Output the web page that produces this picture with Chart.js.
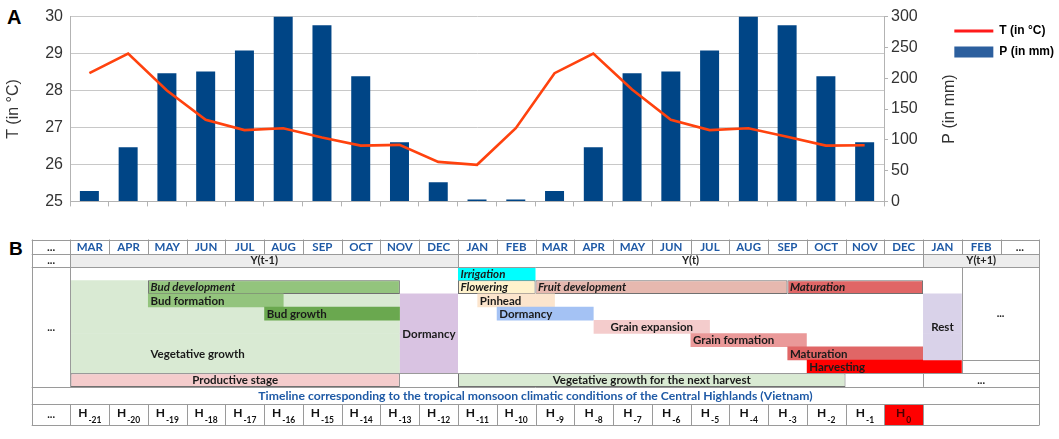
<!DOCTYPE html>
<html>
<head>
<meta charset="utf-8">
<title>Climate and coffee phenology timeline</title>
<script src="https://cdn.jsdelivr.net/npm/chart.js@4.4.1/dist/chart.umd.min.js"></script>
<style>
  html, body { margin: 0; padding: 0; background: #fff; }
  body { position: relative; width: 1059px; height: 439px; overflow: hidden; }
  .tag { position: absolute; font-family: "Liberation Sans", Arial, sans-serif; font-weight: bold; line-height: 1; color: #000; }
  canvas { position: absolute; left: 0; }
</style>
</head>
<body>
<div class="tag" style="left:7px;top:7px;font-size:20px">A</div>
<canvas id="climate" width="1059" height="218" style="top:0"></canvas>
<div class="tag" style="left:9px;top:239px;font-size:19px">B</div>
<canvas id="timeline" width="1059" height="207" style="top:232px"></canvas>
<script>
// ---------- panel A : monthly temperature and rainfall
var climateMonths = ["MAR","APR","MAY","JUN","JUL","AUG","SEP","OCT","NOV","DEC","JAN","FEB",
                     "MAR","APR","MAY","JUN","JUL","AUG","SEP","OCT","NOV"];
var tempC = [28.47, 29.0, 28.0, 27.21, 26.93, 26.98, 26.73, 26.51, 26.53, 26.07, 25.99, 26.98,
             28.47, 29.0, 28.03, 27.21, 26.93, 26.98, 26.75, 26.51, 26.52];
var rainMm = [17, 88, 208, 211, 245, 300, 286, 203, 96, 31, 3, 3,
              17, 88, 208, 211, 245, 300, 286, 203, 96];
var seriesNames = ["T (in °C)", "P (in mm)"];
var rainAxisTitle = "P (in mm)";

// ---------- panel B : phenology timeline
var timelineMonths = ["...","MAR","APR","MAY","JUN","JUL","AUG","SEP","OCT","NOV","DEC",
                      "JAN","FEB","MAR","APR","MAY","JUN","JUL","AUG","SEP","OCT","NOV","DEC",
                      "JAN","FEB","..."];
var yearLabels = ["...", "Y(t-1)", "Y(t)", "Y(t+1)"];
var yearStarts = [0, 1, 11, 23];
var yearEnds = [1, 11, 23, 26];
var harvestSubs = ["-21","-20","-19","-18","-17","-16","-15","-14","-13","-12",
                   "-11","-10","-9","-8","-7","-6","-5","-4","-3","-2","-1","0"];
var timelineNote = "Timeline corresponding to the tropical monsoon climatic conditions of the Central Highlands (Vietnam)";

// phases: start / end in month columns, lanes = first and last row used
var phaseNames = ["Vegetative growth", "Dormancy", "Bud development", "Bud formation", "Bud growth",
                  "Irrigation", "Flowering", "Fruit development", "Maturation", "Pinhead", "Dormancy",
                  "Grain expansion", "Grain formation", "Maturation", "Harvesting", "Rest",
                  "Productive stage", "Vegetative growth for the next harvest"];
var phaseStart = [1, 9.5, 3, 3, 6, 11, 11, 13, 19.5, 11.5, 12, 14.5, 17, 19.5, 20, 23, 1, 11];
var phaseEnd   = [9.5, 11, 9.5, 6.5, 9.5, 13, 13, 19.5, 23, 13.5, 14.5, 17.5, 20, 23, 24, 24, 9.5, 21];
var phaseLanes = [[2,8],[3,8],[2,2],[3,3],[4,4],[1,1],[2,2],[2,2],[2,2],[3,3],[4,4],
                  [5,5],[6,6],[7,7],[8,8],[3,7],[9,9],[9,9]];

// looks
var phaseFill = ["#d9ead3","#d9c3e2","#93c47d","#93c47d","#6aa84f","#00ffff","#fff2cc","#e6b8af",
                 "#e06666","#fce5cd","#a4c2f4","#f4cccc","#ea9999","#e06666","#ff0000","#d9d2e9",
                 "#f4cccc","#d9ead3"];
var outlinedPhases = [2, 6, 7, 8, 16, 17];
var italicPhases = [2, 5, 6, 7, 8];
var centredPhases = [1, 11, 15, 16, 17];
var labelSpot = { 0: { col: 3, lane: 7 } };
var shadedYears = [1, 3];
var legendShape = ["line", "rect"];
var legendSwatch = ["#ff1a1a", "#2c5f9e"];
var legendStroke = [3, 0];

var AXIS_FONT = { family: "Liberation Sans", size: 16 };
var CELL_FONT = "Lato, 'Open Sans', sans-serif";
var BLUE = "#1f5aa6";

// right axis title reads bottom-to-top, as in the original
var sideTitle = {
  id: "sideTitle",
  afterDraw: function (chart) {
    var s = chart.scales.y1, ctx = chart.ctx, a = chart.chartArea;
    ctx.save();
    ctx.translate(s.right + 4.5, (a.top + a.bottom) / 2);
    ctx.rotate(-Math.PI / 2);
    ctx.font = "16px 'Liberation Sans'";
    ctx.fillStyle = "#333";
    ctx.textAlign = "center";
    ctx.textBaseline = "middle";
    ctx.fillText(rainAxisTitle, 0, 0);
    ctx.restore();
  }
};

var climateChart = new Chart(document.getElementById("climate"), {
  type: "bar",
  data: {
    labels: climateMonths,
    datasets: [{
      type: "line",
      label: seriesNames[0],
      data: tempC,
      yAxisID: "y",
      borderColor: "#ff420e",
      borderWidth: 2.6,
      pointRadius: 0,
      tension: 0,
      fill: false
    }, {
      type: "bar",
      label: seriesNames[1],
      data: rainMm,
      yAxisID: "y1",
      backgroundColor: "#004586",
      categoryPercentage: 1,
      barPercentage: 0.49
    }]
  },
  options: {
    responsive: false,
    animation: false,
    layout: { padding: { top: 16, right: -5, left: 0, bottom: 0 } },
    scales: {
      x: {
        grid: { offset: true, drawOnChartArea: false, tickLength: 5, color: "#b3b3b3" },
        border: { color: "#b3b3b3" },
        ticks: { display: false },
        afterFit: function (s) { s.height = 11.6; }
      },
      y: {
        position: "left",
        min: 25, max: 30,
        ticks: { stepSize: 1, padding: 7, color: "#333", font: AXIS_FONT },
        grid: { color: "#c8c8c8", drawTicks: false },
        border: { color: "#b3b3b3" },
        title: { display: true, text: "T (in °C)", color: "#333", font: AXIS_FONT, padding: { top: 4, bottom: 0 } },
        afterFit: function (s) { s.width = 70; }
      },
      y1: {
        position: "right",
        min: 0, max: 300,
        ticks: { stepSize: 50, padding: 3, color: "#333", font: AXIS_FONT },
        grid: { drawOnChartArea: false, tickLength: 4, color: "#b3b3b3" },
        border: { color: "#b3b3b3" },
        afterFit: function (s) { s.width = 61.3; }
      }
    },
    plugins: {
      tooltip: { enabled: false },
      legend: {
        position: "right",
        align: "start",
        labels: {
          usePointStyle: true,
          pointStyleWidth: 39,
          boxHeight: 11,
          padding: 9,
          color: "#111",
          font: { family: "Liberation Sans", size: 12, weight: "bold" },
          generateLabels: function (chart) {
            return chart.data.datasets.map(function (ds, i) {
              return {
                text: ds.label, datasetIndex: i, hidden: false,
                pointStyle: legendShape[i], fillStyle: legendSwatch[i],
                strokeStyle: legendSwatch[i], lineWidth: legendStroke[i]
              };
            });
          }
        }
      }
    }
  },
  plugins: [sideTitle]
});

// ---------- panel B chart
var rowEdge = { top: -1.589, month: -0.48, year: 0.5, gantt: 8.5, prod: 9.526, note: 10.823, bottom: 12.422 };
function laneY(lane) { return lane === 9 ? (rowEdge.gantt + rowEdge.prod) / 2 : lane; }

var ganttBars = [], barFill = [], barEdge = [];
phaseNames.forEach(function (name, i) {
  for (var lane = phaseLanes[i][0]; lane <= phaseLanes[i][1]; lane++) {
    ganttBars.push({ x: [phaseStart[i], phaseEnd[i]], y: laneY(lane) });
    barFill.push(phaseFill[i]);
    barEdge.push(outlinedPhases.indexOf(i) >= 0 ? 1 : 0);
  }
});

function putText(ctx, str, px, py, font, color, align) {
  ctx.font = font;
  ctx.fillStyle = color;
  ctx.textAlign = align || "center";
  ctx.textBaseline = "middle";
  ctx.fillText(str, px, py);
}

var tableGrid = {
  id: "tableGrid",
  beforeDatasetsDraw: function (chart) {
    var ctx = chart.ctx, x = chart.scales.x, y = chart.scales.y;
    function box(c0, c1, u0, u1, color) {
      var px0 = x.getPixelForValue(c0), px1 = x.getPixelForValue(c1);
      var py0 = y.getPixelForValue(u0), py1 = y.getPixelForValue(u1);
      ctx.fillStyle = color;
      ctx.fillRect(px0, py0, px1 - px0, py1 - py0);
    }
    ctx.save();
    shadedYears.forEach(function (i) { box(yearStarts[i], yearEnds[i], rowEdge.month, rowEdge.year, "#ededed"); });
    var h0 = harvestSubs.length;
    box(h0, h0 + 1, rowEdge.note, rowEdge.bottom, "#ff0000");
    ctx.restore();
  },
  afterDatasetsDraw: function (chart) {
    var ctx = chart.ctx, x = chart.scales.x, y = chart.scales.y;
    var X = function (c) { return x.getPixelForValue(c); };
    var Y = function (u) { return y.getPixelForValue(u); };
    ctx.save();
    ctx.beginPath();
    function hLine(c0, c1, u) { var py = Math.round(Y(u)) + 0.5; ctx.moveTo(X(c0), py); ctx.lineTo(X(c1), py); }
    function vLine(c, u0, u1) { var px = Math.round(X(c)) + 0.5; ctx.moveTo(px, Y(u0)); ctx.lineTo(px, Y(u1)); }
    ["top", "month", "year", "prod", "note", "bottom"].forEach(function (k) { hLine(0, 26, rowEdge[k]); });
    hLine(1, 26, rowEdge.gantt);
    hLine(24, 26, 7.5);
    vLine(0, rowEdge.top, rowEdge.bottom);
    vLine(26, rowEdge.top, rowEdge.bottom);
    for (var c = 1; c < timelineMonths.length; c++) vLine(c, rowEdge.top, rowEdge.month);
    yearStarts.slice(1).forEach(function (c) { vLine(c, rowEdge.month, rowEdge.year); });
    vLine(1, rowEdge.year, rowEdge.prod);
    vLine(24, rowEdge.year, rowEdge.gantt);
    vLine(23, rowEdge.gantt, rowEdge.prod);
    for (c = 1; c <= harvestSubs.length + 1; c++) vLine(c, rowEdge.note, rowEdge.bottom);
    ctx.strokeStyle = "#9a9a9a";
    ctx.lineWidth = 1;
    ctx.stroke();

    var bold = "bold 11px " + CELL_FONT;
    var label = "bold 11.5px " + CELL_FONT;
    // month header
    var my = (Y(rowEdge.top) + Y(rowEdge.month)) / 2;
    timelineMonths.forEach(function (m, i) {
      putText(ctx, m, (X(i) + X(i + 1)) / 2, my, "bold 11.5px " + CELL_FONT, m === "..." ? "#222" : BLUE);
    });
    // years
    var yy = (Y(rowEdge.month) + Y(rowEdge.year)) / 2;
    yearLabels.forEach(function (t, i) {
      putText(ctx, t, (X(yearStarts[i]) + X(yearEnds[i])) / 2, yy, "bold 11px " + CELL_FONT, "#222");
    });
    // ellipsis cells
    putText(ctx, "...", (X(0) + X(1)) / 2, (Y(rowEdge.year) + Y(rowEdge.prod)) / 2, bold, "#222");
    putText(ctx, "...", (X(24) + X(26)) / 2, (Y(rowEdge.year) + Y(7.5)) / 2, bold, "#222");
    putText(ctx, "...", (X(23) + X(26)) / 2, (Y(rowEdge.gantt) + Y(rowEdge.prod)) / 2, bold, "#222");
    putText(ctx, "...", (X(0) + X(1)) / 2, (Y(rowEdge.note) + Y(rowEdge.bottom)) / 2, bold, "#222");
    // note line
    putText(ctx, timelineNote, (X(0) + X(26)) / 2, (Y(rowEdge.prod) + Y(rowEdge.note)) / 2 + 0.5, "bold 12.2px " + CELL_FONT, BLUE);
    // H row
    var hy = (Y(rowEdge.note) + Y(rowEdge.bottom)) / 2;
    harvestSubs.forEach(function (sub, i) {
      var cx = (X(i + 1) + X(i + 2)) / 2;
      var hFont = "bold 12px " + CELL_FONT, sFont = "bold 8.5px " + CELL_FONT;
      ctx.font = hFont; var wH = ctx.measureText("H").width;
      ctx.font = sFont; var wS = ctx.measureText(sub).width;
      var left = cx - (wH + wS + 1) / 2;
      ctx.fillStyle = sub === "0" ? "#4a0000" : "#111";
      ctx.textAlign = "left";
      ctx.textBaseline = "alphabetic";
      ctx.font = hFont; ctx.fillText("H", left, hy + 2.5);
      ctx.font = sFont; ctx.fillText(sub, left + wH + 1, hy + 8.5);
    });
    // phase labels
    phaseNames.forEach(function (name, i) {
      var spot = labelSpot[i];
      var lanes = phaseLanes[i];
      var laneMid = spot ? spot.lane : (lanes[0] + lanes[1]) / 2;
      var py = Y(laneY(laneMid)) + 0.5;
      var font = (italicPhases.indexOf(i) >= 0 ? "italic " : "") + label;
      if (centredPhases.indexOf(i) >= 0) {
        putText(ctx, name, (X(phaseStart[i]) + X(phaseEnd[i])) / 2, py, font, "#1a1a1a", "center");
      } else {
        putText(ctx, name, X(spot ? spot.col : phaseStart[i]) + 2.5, py, font, "#1a1a1a", "left");
      }
    });
    ctx.restore();
  }
};

var timelineChart = new Chart(document.getElementById("timeline"), {
  type: "bar",
  data: {
    datasets: [{
      data: ganttBars,
      backgroundColor: barFill,
      borderWidth: barEdge,
      borderColor: "#707070",
      borderSkipped: false,
      categoryPercentage: 1,
      barPercentage: 1.03
    }]
  },
  options: {
    indexAxis: "y",
    responsive: false,
    animation: false,
    layout: { padding: { left: 31.7, right: 19.7, top: 7.5, bottom: 13.7 } },
    scales: {
      x: { type: "linear", min: 0, max: 26, offset: false, display: false },
      y: { type: "linear", min: rowEdge.top, max: rowEdge.bottom, reverse: true, offset: false, display: false, ticks: { stepSize: 100 } }
    },
    plugins: { legend: { display: false }, tooltip: { enabled: false } }
  },
  plugins: [tableGrid]
});
</script>
</body>
</html>
